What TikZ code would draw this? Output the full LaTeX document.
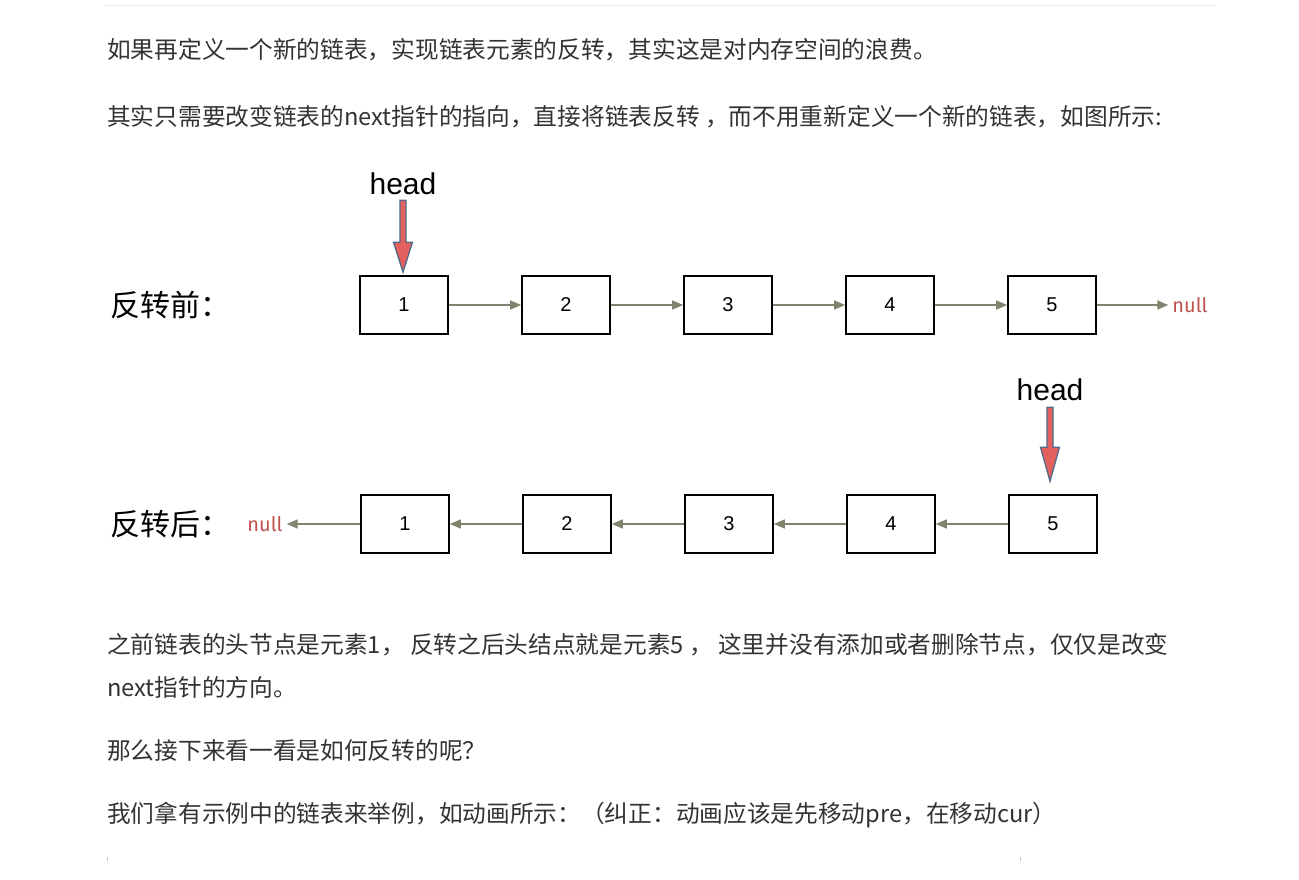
\documentclass[tikz,border=0pt]{standalone}
\usepackage{fontspec}
\setmainfont{Noto Sans CJK SC}
\newfontfamily\latinfont{Liberation Sans}
\newfontfamily\ptrfont{Fira Sans}
\usetikzlibrary{arrows.meta,positioning,calc}
\definecolor{textgray}{HTML}{333333}
\definecolor{linkgray}{HTML}{80846F}
\definecolor{nullred}{HTML}{C0504D}
\definecolor{headred}{HTML}{E4605F}
\definecolor{headblue}{HTML}{4F6B88}
\definecolor{rulegray}{HTML}{EBEBEB}

\begin{document}
\begin{tikzpicture}[
  x=1pt,y=-1pt,>=Latex,
  cell/.style={draw,line width=1.6pt,minimum width=88pt,minimum height=58pt,
    inner sep=0pt,font=\latinfont\fontsize{20}{20}\selectfont},
  link/.style={draw=linkgray,line width=1.6pt,-{Triangle[length=11pt,width=9pt]}},
  nulltext/.style={text=nullred,inner sep=4pt,
    font=\ptrfont\fontsize{20}{20}\selectfont},
  rowlabel/.style={anchor=west,inner sep=0pt,font=\fontsize{30}{30}\selectfont},
  headtext/.style={inner sep=0pt,font=\latinfont\fontsize{30}{30}\selectfont},
  headarrow/.style={fill=headred,draw=headblue,line width=1.3pt,line join=miter},
  para/.style={anchor=west,inner sep=0pt,text=textgray,
    font=\fontsize{23.7}{23.7}\selectfont}
]
  \useasboundingbox (0,0) rectangle (1299,880);
  \draw[rulegray,line width=1pt] (105,6) -- (1215,6);

  \node[para] (line1) at (107,50) {如果再定义一个新的链表，实现链表元素的反转，其实这是对内存空间的浪费。};
  \node[para] (line2) at (107,117) {其实只需要改变链表的next指针的指向，直接将链表反转 ，而不用重新定义一个新的链表，如图所示:};

  % before
  \node[rowlabel] (before) at (110,305) {反转前：};
  \foreach \i in {1,...,5}
    \node[cell] (a\i) at ({404+162*(\i-1)},305) {\i};
  \foreach \i [evaluate=\i as \j using int(\i+1)] in {1,...,4}
    \draw[link] (a\i) -- (a\j);
  \node[nulltext] (nullA) at (1190,305) {null};
  \draw[link] (a5) -- (nullA);
  \node[headtext] (headA) at (403,184) {head};
  \draw[headarrow] let \p1=(headA.south), \p2=(a1.north) in
    (\x1-3pt,\y1-5pt) -- (\x1+3pt,\y1-5pt) -- (\x1+3pt,\y2+33pt)
    -- (\x1+9.5pt,\y2+33pt) -- (\x1,\y2+3pt) -- (\x1-9.5pt,\y2+33pt)
    -- (\x1-3pt,\y2+33pt) -- cycle;

  % after
  \node[rowlabel] (after) at (110,524) {反转后：};
  \foreach \i in {1,...,5}
    \node[cell] (b\i) at ({405+162*(\i-1)},524) {\i};
  \foreach \i [evaluate=\i as \j using int(\i+1)] in {1,...,4}
    \draw[link] (b\j) -- (b\i);
  \node[nulltext] (nullB) at (265,524) {null};
  \draw[link] (b1) -- (nullB);
  \node[headtext] (headB) at (1050,390) {head};
  \draw[headarrow] let \p1=(headB.south), \p2=(b5.north) in
    (\x1-3pt,\y1-6pt) -- (\x1+3pt,\y1-6pt) -- (\x1+3pt,\y2+47pt)
    -- (\x1+9.5pt,\y2+47pt) -- (\x1,\y2+13pt) -- (\x1-9.5pt,\y2+47pt)
    -- (\x1-3pt,\y2+47pt) -- cycle;

  \node[para] (line3) at (107,645) {之前链表的头节点是元素1， 反转之后头结点就是元素5 ， 这里并没有添加或者删除节点，仅仅是改变};
  \node[para] (line4) at (107,687) {next指针的方向。};
  \node[para] (line5) at (107,750) {那么接下来看一看是如何反转的呢？};
  \node[para] (line6) at (107,815) {我们拿有示例中的链表来举例，如动画所示：（纠正：动画应该是先移动pre，在移动cur）};

  \fill[gray!45] (106.5,857) rectangle (108,861);
  \fill[gray!45] (1019.5,857) rectangle (1021,861);
\end{tikzpicture}
\end{document}
